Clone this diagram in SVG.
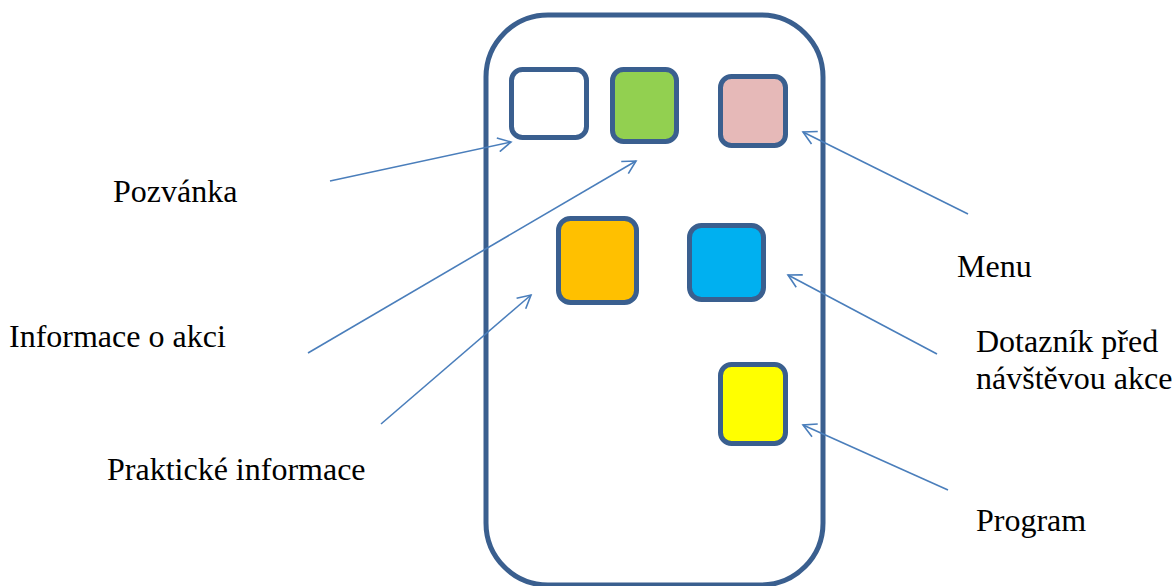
<svg xmlns="http://www.w3.org/2000/svg" width="1174" height="586" viewBox="0 0 1174 586">
<defs>
<style>
.icon{stroke:#3a5f8f;stroke-width:5}
.conn{stroke:#4a7ebb;stroke-width:1.6;fill:none}
.lbl{font-family:"Liberation Serif","Times New Roman",serif;font-size:32px;fill:#000}
</style>
<marker id="arr" markerWidth="16" markerHeight="16" refX="14" refY="8" orient="auto" markerUnits="userSpaceOnUse">
<path d="M1,1 L14,8 L1,15" fill="none" stroke="#4a7ebb" stroke-width="1.6"/>
</marker>
</defs>
<rect width="1174" height="586" fill="#fff"/>
<g id="phone"><rect x="486" y="15" width="337" height="570" rx="62" fill="#fff" stroke="#3a5f8f" stroke-width="5"/></g>
<g id="icon-pozvanka"><rect class="icon" x="511.5" y="69.5" width="75" height="68" rx="11" fill="#fff"/></g>
<g id="icon-informace"><rect class="icon" x="612.5" y="69.5" width="64" height="72" rx="11" fill="#92d050"/></g>
<g id="icon-menu"><rect class="icon" x="720.5" y="76.5" width="65" height="69" rx="11" fill="#e6b9b8"/></g>
<g id="icon-prakticke"><rect class="icon" x="558.5" y="218.5" width="78" height="84" rx="12" fill="#ffc000"/></g>
<g id="icon-dotaznik"><rect class="icon" x="689.5" y="225.5" width="74" height="74" rx="12" fill="#00b0f0"/></g>
<g id="icon-program"><rect class="icon" x="720.5" y="364.5" width="65" height="79" rx="11" fill="#ffff00"/></g>
<g id="connectors">
<line class="conn" x1="330" y1="181" x2="511" y2="142" marker-end="url(#arr)"/>
<line class="conn" x1="308" y1="353" x2="636" y2="161" marker-end="url(#arr)"/>
<line class="conn" x1="381" y1="424" x2="531" y2="295" marker-end="url(#arr)"/>
<line class="conn" x1="968" y1="214" x2="803" y2="132" marker-end="url(#arr)"/>
<line class="conn" x1="937" y1="354" x2="788" y2="275" marker-end="url(#arr)"/>
<line class="conn" x1="948" y1="490" x2="803" y2="425" marker-end="url(#arr)"/>
</g>
<g id="labels">
<text class="lbl" x="113" y="202">Pozvánka</text>
<text class="lbl" x="9" y="347">Informace o akci</text>
<text class="lbl" x="107" y="480">Praktické informace</text>
<text class="lbl" x="957" y="277">Menu</text>
<text class="lbl" x="976" y="352">Dotazník před</text>
<text class="lbl" x="976" y="389">návštěvou akce</text>
<text class="lbl" x="976" y="531">Program</text>
</g>
</svg>
